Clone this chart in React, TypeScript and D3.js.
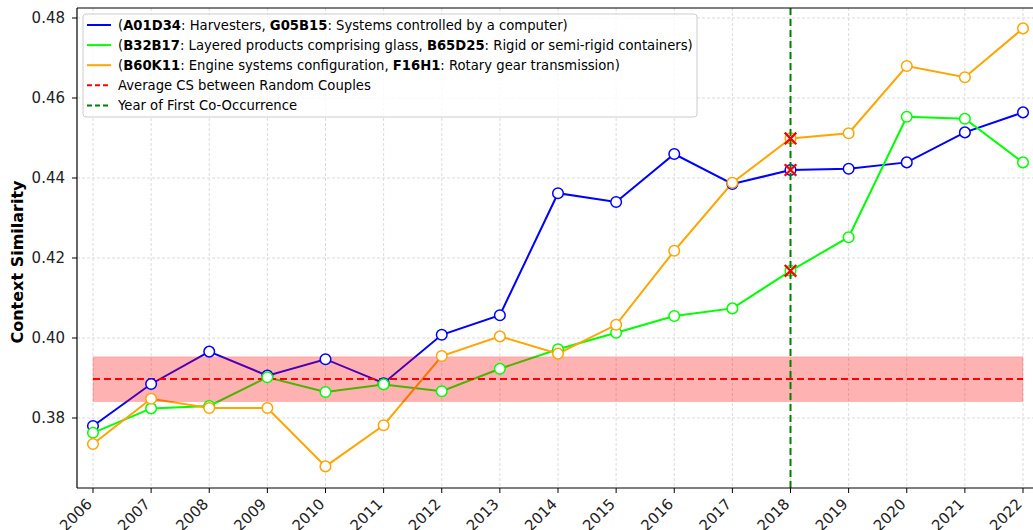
import React, { useRef, useEffect } from "react";
import * as d3 from "d3";

// years on the x axis
const years = [2006, 2007, 2008, 2009, 2010, 2011, 2012, 2013, 2014, 2015, 2016, 2017, 2018, 2019, 2020, 2021, 2022];

// context similarity per pair
const blueValues = [0.378, 0.3885, 0.3966, 0.3906, 0.3947, 0.3887, 0.4008, 0.4057, 0.4362, 0.434, 0.446, 0.4385, 0.442, 0.4423, 0.4439, 0.4514, 0.4564];
const greenValues = [0.3763, 0.3824, 0.383, 0.3902, 0.3865, 0.3884, 0.3867, 0.3923, 0.3972, 0.4013, 0.4055, 0.4074, 0.4168, 0.4252, 0.4553, 0.4548, 0.4439];
const orangeValues = [0.3735, 0.3848, 0.3825, 0.3825, 0.3679, 0.3782, 0.3955, 0.4004, 0.3961, 0.4033, 0.4218, 0.4388, 0.4499, 0.4512, 0.468, 0.4652, 0.4774];

const avgRandom = 0.38975;
const avgBandLow = 0.3841;
const avgBandHigh = 0.3953;
const coOccurrenceYear = 2018;

const yTicks = [0.38, 0.4, 0.42, 0.44, 0.46, 0.48];

const series = [
	{ name: "blue", color: "#0000ff", values: blueValues, label: [["(", false], ["A01D34", true], [": Harvesters, ", false], ["G05B15", true], [": Systems controlled by a computer)", false]] },
	{ name: "green", color: "#00ff00", values: greenValues, label: [["(", false], ["B32B17", true], [": Layered products comprising glass, ", false], ["B65D25", true], [": Rigid or semi-rigid containers)", false]] },
	{ name: "orange", color: "#ffa500", values: orangeValues, label: [["(", false], ["B60K11", true], [": Engine systems configuration, ", false], ["F16H1", true], [": Rotary gear transmission)", false]] },
];

const App = () => {
	const chartRef = useRef(null);

	useEffect(() => {
		const width = 1033;
		const height = 530;
		const margin = { top: 8, right: -6, bottom: 42, left: 77 };
		const font = "DejaVu Sans, sans-serif";

		const svg = d3.select(chartRef.current);
		svg.selectAll("*").remove();
		svg.attr("width", width).attr("height", height);

		const xScale = d3.scaleLinear()
			.domain([2005.725, 2022.275])
			.range([margin.left, width - margin.right]);

		const yScale = d3.scaleLinear()
			.domain([0.3625, 0.4825])
			.range([height - margin.bottom, margin.top]);

		const plotBottom = height - margin.bottom;

		// grid
		const grid = svg.append("g").attr("stroke", "#b0b0b0").attr("stroke-width", 0.8)
			.attr("stroke-dasharray", "3,2").attr("opacity", 0.55);
		years.forEach(y => {
			grid.append("line").attr("x1", xScale(y)).attr("x2", xScale(y))
				.attr("y1", margin.top).attr("y2", plotBottom);
		});
		yTicks.forEach(t => {
			grid.append("line").attr("x1", margin.left).attr("x2", width)
				.attr("y1", yScale(t)).attr("y2", yScale(t));
		});

		// lines
		const line = d3.line()
			.x((d, i) => xScale(years[i]))
			.y(d => yScale(d));

		series.forEach(s => {
			svg.append("path")
				.datum(s.values)
				.attr("d", line)
				.attr("fill", "none")
				.attr("stroke", s.color)
				.attr("stroke-width", 2);
		});

		// random couples band
		svg.append("rect")
			.attr("x", xScale(years[0]))
			.attr("y", yScale(avgBandHigh))
			.attr("width", xScale(years[years.length - 1]) - xScale(years[0]))
			.attr("height", yScale(avgBandLow) - yScale(avgBandHigh))
			.attr("fill", "#ff0000")
			.attr("fill-opacity", 0.3)
			.attr("stroke", "#ff0000")
			.attr("stroke-opacity", 0.15);

		svg.append("line")
			.attr("x1", xScale(years[0])).attr("x2", xScale(years[years.length - 1]))
			.attr("y1", yScale(avgRandom)).attr("y2", yScale(avgRandom))
			.attr("stroke", "#ff0000").attr("stroke-width", 2)
			.attr("stroke-dasharray", "7,4");

		// markers
		series.forEach(s => {
			svg.selectAll(".m-" + s.name)
				.data(s.values)
				.enter()
				.append("circle")
				.attr("class", "m-" + s.name)
				.attr("cx", (d, i) => xScale(years[i]))
				.attr("cy", d => yScale(d))
				.attr("r", 5.3)
				.attr("fill", "white")
				.attr("stroke", s.color)
				.attr("stroke-width", 1.5);
		});

		// year of first co-occurrence
		svg.append("line")
			.attr("x1", xScale(coOccurrenceYear)).attr("x2", xScale(coOccurrenceYear))
			.attr("y1", margin.top).attr("y2", plotBottom)
			.attr("stroke", "#008000").attr("stroke-width", 2)
			.attr("stroke-dasharray", "7,4");

		// red crosses at co-occurrence year
		const idx = years.indexOf(coOccurrenceYear);
		series.forEach(s => {
			const cx = xScale(coOccurrenceYear);
			const cy = yScale(s.values[idx]);
			const r = 5.8;
			svg.append("path")
				.attr("d", `M${cx - r},${cy - r}L${cx + r},${cy + r}M${cx - r},${cy + r}L${cx + r},${cy - r}`)
				.attr("stroke", "#ff0000")
				.attr("stroke-width", 2.3);
		});

		// axes spines
		svg.append("line").attr("x1", margin.left).attr("x2", margin.left)
			.attr("y1", margin.top).attr("y2", plotBottom)
			.attr("stroke", "black").attr("stroke-width", 1.2);
		svg.append("line").attr("x1", margin.left).attr("x2", width)
			.attr("y1", plotBottom).attr("y2", plotBottom)
			.attr("stroke", "black").attr("stroke-width", 1.2);
		svg.append("line").attr("x1", margin.left).attr("x2", width)
			.attr("y1", margin.top).attr("y2", margin.top)
			.attr("stroke", "black").attr("stroke-width", 1.2);

		// x ticks
		const xt = svg.append("g");
		years.forEach(y => {
			const x = xScale(y);
			xt.append("line").attr("x1", x).attr("x2", x).attr("y1", plotBottom).attr("y2", plotBottom + 5)
				.attr("stroke", "black").attr("stroke-width", 1);
			xt.append("text")
				.attr("transform", `translate(${x},${plotBottom + 17}) rotate(-45)`)
				.attr("text-anchor", "end")
				.attr("font-family", font)
				.attr("font-size", 15)
				.attr("fill", "#222")
				.text(y);
		});

		// y ticks
		const yt = svg.append("g");
		yTicks.forEach(t => {
			const y = yScale(t);
			yt.append("line").attr("x1", margin.left - 5).attr("x2", margin.left).attr("y1", y).attr("y2", y)
				.attr("stroke", "black").attr("stroke-width", 1);
			yt.append("text")
				.attr("x", margin.left - 12)
				.attr("y", y)
				.attr("dy", "0.35em")
				.attr("text-anchor", "end")
				.attr("font-family", font)
				.attr("font-size", 15)
				.attr("fill", "#222")
				.text(d3.format(".2f")(t));
		});

		svg.append("text")
			.attr("transform", `translate(23,262) rotate(-90)`)
			.attr("text-anchor", "middle")
			.attr("font-family", font)
			.attr("font-size", 16)
			.attr("font-weight", "bold")
			.attr("fill", "black")
			.text("Context Similarity");

		// legend
		const lg = svg.append("g").attr("transform", "translate(83,14)");
		lg.append("rect")
			.attr("width", 614).attr("height", 103)
			.attr("rx", 3)
			.attr("fill", "white").attr("fill-opacity", 0.8)
			.attr("stroke", "#cccccc");

		const rows = [
			...series.map(s => ({ color: s.color, dash: null, label: s.label })),
			{ color: "#ff0000", dash: "5,3", label: [["Average CS between Random Couples", false]] },
			{ color: "#008000", dash: "5,3", label: [["Year of First Co-Occurrence", false]] },
		];

		rows.forEach((r, i) => {
			const cy = 11 + i * 20.1;
			lg.append("line")
				.attr("x1", 4).attr("x2", 28).attr("y1", cy).attr("y2", cy)
				.attr("stroke", r.color).attr("stroke-width", 2)
				.attr("stroke-dasharray", r.dash);
			const t = lg.append("text")
				.attr("x", 35).attr("y", cy).attr("dy", "0.35em")
				.attr("font-family", font)
				.attr("font-size", 13.2)
				.attr("fill", "black");
			r.label.forEach(([txt, bold]) => {
				t.append("tspan").attr("font-weight", bold ? "bold" : "normal").text(txt);
			});
		});
	}, []);

	return <svg ref={chartRef} style={{ position: "absolute", left: 0, top: 0, background: "white" }}></svg>;
};

export default App;
